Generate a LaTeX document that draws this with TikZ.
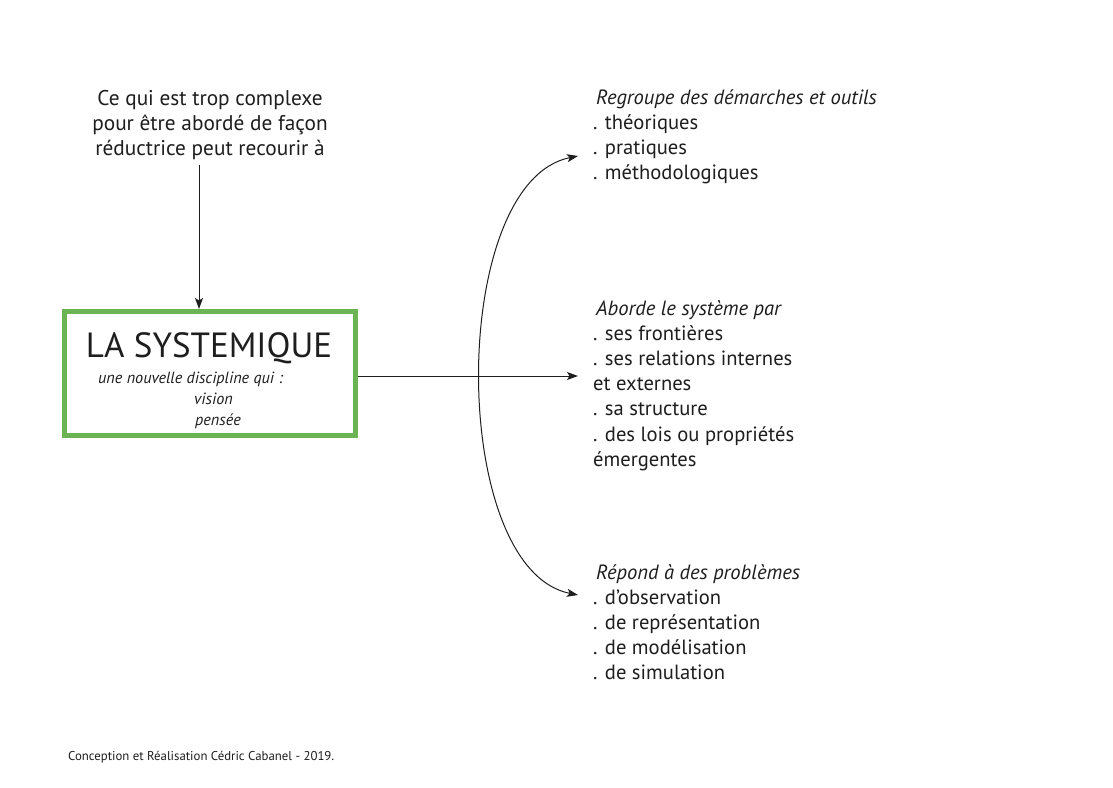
\documentclass[tikz,border=0pt]{standalone}
\usepackage{fontspec}
\setmainfont{PT Sans}
\usetikzlibrary{arrows.meta}
\definecolor{boxgreen}{RGB}{106,180,84}
\definecolor{inkgray}{RGB}{30,30,30}
\begin{document}
\begin{tikzpicture}[x=1pt,y=-1pt,
  txt/.style={inner sep=0pt,anchor=base west,text=inkgray,font=\fontsize{20.6}{24}\selectfont},
  itxt/.style={inner sep=0pt,anchor=base west,text=inkgray,font=\fontsize{20.6}{24}\selectfont\itshape},
  ctxt/.style={inner sep=0pt,anchor=base,text=inkgray,font=\fontsize{21.3}{24}\selectfont},
  arr/.style={-{Stealth[length=11pt,width=8pt,inset=2.5pt]},line width=1pt,draw=inkgray},
  arrboth/.style={{Stealth[length=11pt,width=8pt,inset=2.5pt]}-{Stealth[length=11pt,width=8pt,inset=2.5pt]},line width=1pt,draw=inkgray},
  greenbox/.style={draw=boxgreen,line width=5pt,fill=white}
]
\useasboundingbox[fill=white] (0,0) rectangle (1113,787);

% top-left text
\node[ctxt] (q1) at (210,105) {Ce qui est trop complexe};
\node[ctxt] (q2) at (210,130) {pour être abordé de façon};
\node[ctxt] (q3) at (210,155) {réductrice peut recourir à};
\coordinate (qa) at (199,165);

% main box
\draw[greenbox] (64.5,311.5) rectangle (355.5,435.5);
\coordinate (boxtop) at (199,309);
\coordinate (boxright) at (358,376);
\node[ctxt,font=\fontsize{35}{38}\selectfont] (title) at (209,357) {LA SYSTEMIQUE};
\node[itxt,font=\fontsize{16.2}{18}\selectfont\itshape] (sub) at (98,383) {une nouvelle discipline qui :};
\node[itxt,font=\fontsize{16.2}{18}\selectfont\itshape] (vis) at (194,404) {vision};
\node[itxt,font=\fontsize{16.2}{18}\selectfont\itshape] (pen) at (195,425) {pensée};

\draw[arr] (qa) -- (boxtop);

% right blocks
\node[itxt] (a0) at (596,104) {Regroupe des démarches et outils};
\node[txt] (a1) at (593,129) {. théoriques};
\node[txt] (a2) at (593,154) {. pratiques};
\node[txt] (a3) at (593,179) {. méthodologiques};

\node[itxt] (b0) at (596,315) {Aborde le système par};
\node[txt] (b1) at (593,340) {. ses frontières};
\node[txt] (b2) at (593,365) {. ses relations internes};
\node[txt] (b3) at (593,390) {et externes};
\node[txt] (b4) at (593,415) {. sa structure};
\node[txt] (b5) at (593,441) {. des lois ou propriétés};
\node[txt] (b6) at (593,466) {émergentes};

\node[itxt] (c0) at (596,579) {Répond à des problèmes};
\node[txt] (c1) at (593,604) {. d’observation};
\node[txt] (c2) at (593,629) {. de représentation};
\node[txt] (c3) at (593,654) {. de modélisation};
\node[txt] (c4) at (593,679) {. de simulation};

\coordinate (ta) at (578,156);
\coordinate (tb) at (578,376);
\coordinate (tc) at (578,595);

\draw[arr] (boxright) -- (tb);
\draw[arrboth] (ta) .. controls (448,182) and (448,569) .. (tc);

% footer
\node[txt,font=\fontsize{12.8}{14}\selectfont] (foot) at (68,760) {Conception et Réalisation Cédric Cabanel - 2019.};
\end{tikzpicture}
\end{document}
